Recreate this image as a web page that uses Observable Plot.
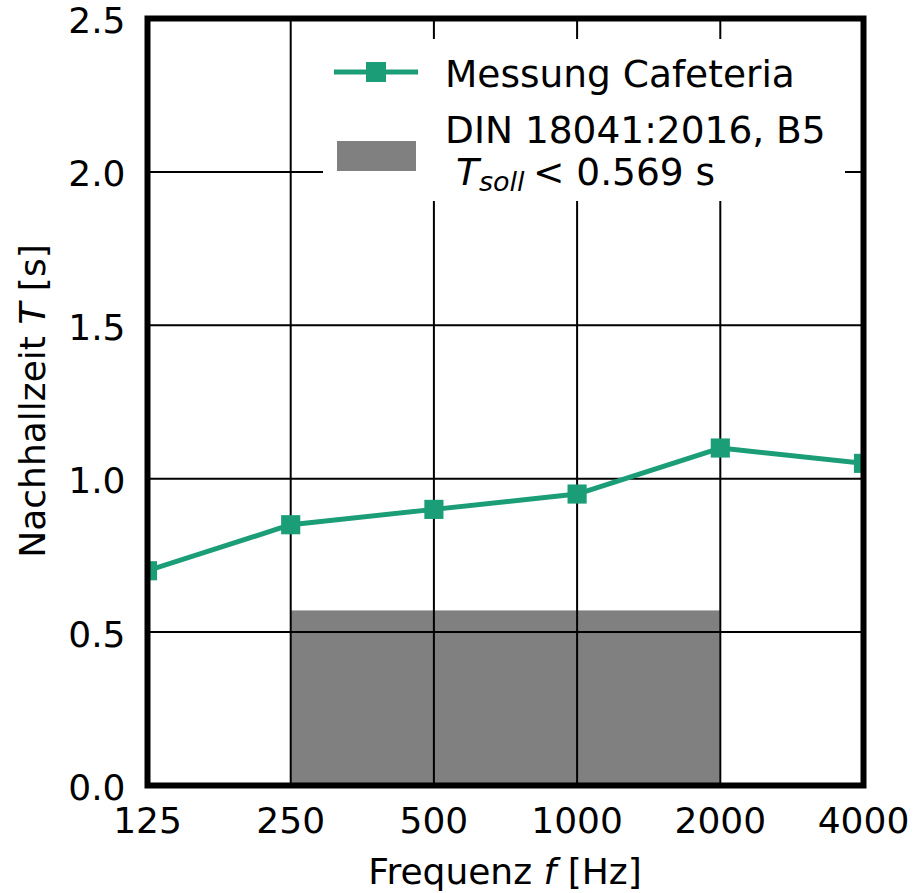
<!DOCTYPE html>
<html><head><meta charset="utf-8">
<script src="https://cdn.jsdelivr.net/npm/d3@7"></script>
<script src="https://cdn.jsdelivr.net/npm/@observablehq/plot@0.6"></script>
<style>
body{margin:0;background:#fff}
svg{font-family:"DejaVu Sans",sans-serif}
</style>
</head><body><div id="chart"></div>
<script>
// Data
const freqs = [125, 250, 500, 1000, 2000, 4000];
const reverb = [0.70, 0.85, 0.90, 0.95, 1.10, 1.05];
const bandStart = 250;
const bandEnd = 2000;
const targetT = 0.569;
const yTicks = [0, 0.5, 1.0, 1.5, 2.0, 2.5];
const seriesLabel = "Messung Cafeteria";
const bandLabel1 = "DIN 18041:2016, B5";
const bandLabel2 = "< 0.569 s";

const teal = "#1b9e77";
const measured = freqs.map((f, i) => ({f, t: reverb[i]}));
const band = [{x1: bandStart, x2: bandEnd, y: targetT}];

const plot = Plot.plot({
  width: 917, height: 893,
  marginLeft: 147, marginRight: 54, marginTop: 18, marginBottom: 108,
  style: {fontSize: "36px", fontFamily: "DejaVu Sans", color: "black", background: "white", overflow: "visible"},
  x: {type: "log", base: 2, domain: [125, 4000]},
  y: {domain: [0, 2.5]},
  marks: [
    Plot.rectY(band, {x1: "x1", x2: "x2", y: "y", fill: "#808080"}),
    Plot.gridX(freqs, {stroke: "black", strokeOpacity: 1, strokeWidth: 2}),
    Plot.gridY(yTicks, {stroke: "black", strokeOpacity: 1, strokeWidth: 2}),
    Plot.line(measured, {x: "f", y: "t", stroke: teal, strokeWidth: 5, clip: true}),
    Plot.dot(measured, {x: "f", y: "t", symbol: "square", r: 10.8, fill: teal, stroke: "none", clip: true}),
    Plot.frame({stroke: "black", strokeWidth: 6}),
    Plot.axisX(freqs, {tickSize: 0, tickPadding: 22, tickFormat: d => String(d), label: null, fontSize: 36}),
    Plot.axisY(yTicks, {tickSize: 0, tickPadding: 22, dy: 3, tickFormat: d => d.toFixed(1), label: null, fontSize: 36})
  ]
});
document.getElementById("chart").append(plot);

const svg = d3.select(plot);
// X axis label
const xl = svg.append("text").attr("x", 505).attr("y", 884).attr("text-anchor", "middle")
  .attr("font-size", 36).attr("fill", "black");
xl.append("tspan").text("Frequenz ");
xl.append("tspan").attr("font-style", "italic").text("f");
xl.append("tspan").text(" [Hz]");
// Y axis label
const yl = svg.append("text").attr("transform", "translate(45,401) rotate(-90)").attr("text-anchor", "middle")
  .attr("font-size", 36).attr("fill", "black");
yl.append("tspan").text("Nachhallzeit ");
yl.append("tspan").attr("font-style", "italic").text("T");
yl.append("tspan").text(" [s]");

// Legend
const lg = svg.append("g").attr("text-anchor", "start").attr("fill", "black");
lg.append("rect").attr("x", 323).attr("y", 39).attr("width", 522).attr("height", 162).attr("fill", "white");
lg.append("line").attr("x1", 334).attr("x2", 418).attr("y1", 72).attr("y2", 72).attr("stroke", teal).attr("stroke-width", 5);
lg.append("rect").attr("x", 366).attr("y", 62).attr("width", 20).attr("height", 20).attr("fill", teal);
lg.append("text").attr("x", 445).attr("y", 87).attr("font-size", 37.5).attr("text-anchor", "start").text(seriesLabel);
lg.append("rect").attr("x", 337).attr("y", 141).attr("width", 79).attr("height", 30).attr("fill", "#808080");
lg.append("text").attr("x", 445).attr("y", 143).attr("font-size", 37.5).attr("text-anchor", "start").text(bandLabel1);
const t2 = lg.append("text").attr("x", 456).attr("y", 185).attr("font-size", 37.5).attr("text-anchor", "start");
t2.append("tspan").attr("font-style", "italic").text("T");
t2.append("tspan").attr("font-style", "italic").attr("font-size", 27).attr("dy", 6).text("soll");
t2.append("tspan").attr("dy", -6).attr("x", 533).text(bandLabel2);
</script>
</body></html>
